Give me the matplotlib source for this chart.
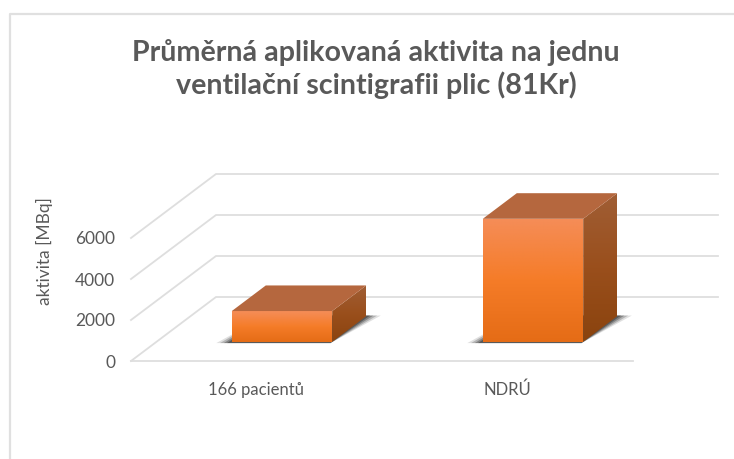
import numpy as np
import matplotlib
matplotlib.use("Agg")
import matplotlib.pyplot as plt
from matplotlib.colors import LinearSegmentedColormap
from matplotlib.lines import Line2D
from matplotlib.patches import Polygon

# data
categories = ["166 pacientů", "NDRÚ"]
values = [1500, 6000]
y_ticks = [0, 2000, 4000, 6000]

title = "Průměrná aplikovaná aktivita na jednu\nventilační scintigrafii plic (81Kr)"
y_label = "aktivita [MBq]"

# config
W, H = 734, 459
TEXT_COLOR = "#595959"
GRID_COLOR = "#dedede"
TOP_COLOR = "#b5673e"
DEPTH_X = 0.3386     # full depth of the box, in category units
DEPTH_Y = 3122       # full depth of the box, in value units
BAR_WIDTH = 0.4
BAR_D0, BAR_D1 = 0.3, 0.7

plt.rcParams["font.family"] = ["Lato", "DejaVu Sans"]

fig = plt.figure(figsize=(W / 100, H / 100), dpi=100)
ax = fig.add_axes([131 / W, (H - 361) / H, 502 / W, 123 / H])
ax.set_xlim(0, len(categories))
ax.set_ylim(0, max(y_ticks))
for s in ax.spines.values():
    s.set_visible(False)
ax.patch.set_visible(False)

front_cmap = LinearSegmentedColormap.from_list("front", ["#f58d58", "#f57c28", "#e56c16"])
side_cmap = LinearSegmentedColormap.from_list("side", ["#a05e35", "#9a4f1c", "#8a430e"])


def proj(x, v, d):
    return x + d * DEPTH_X, v + d * DEPTH_Y


def gradient_poly(pts, cmap, y_top, y_bottom, zorder):
    # vertical gradient clipped to a polygon, runs over the whole bar height
    xs = [p[0] for p in pts]
    grad = np.linspace(0, 1, 128).reshape(-1, 1)
    im = ax.imshow(grad, cmap=cmap, aspect="auto", zorder=zorder, interpolation="bilinear",
                   extent=[min(xs), max(xs), y_bottom, y_top], origin="upper")
    poly = Polygon(pts, closed=True, transform=ax.transData)
    im.set_clip_box(fig.bbox)
    im.set_clip_path(poly)


# outer chart border, cut by the picture edge
fig.add_artist(Line2D([9.5 / W, 9.5 / W, 1], [0, 1 - 13.5 / H, 1 - 13.5 / H], color="#e0e0e0", lw=1.6))

# walls and floor
n = len(categories)
for v in y_ticks:
    p0 = proj(0, v, 0)
    p1 = proj(0, v, 1)
    p2 = proj(n, v, 1)
    ax.plot([p0[0], p1[0], p2[0]], [p0[1], p1[1], p2[1]], color=GRID_COLOR, lw=1.3, clip_on=False, zorder=1)
ax.plot([0, n], [0, 0], color=GRID_COLOR, lw=1.3, clip_on=False, zorder=1)

# bars
for i, val in enumerate(values):
    x0 = i + 0.5 - BAR_WIDTH / 2
    x1 = i + 0.5 + BAR_WIDTH / 2

    # soft shadow on the floor
    for grow, a in zip([0.055, 0.04, 0.025, 0.012], [0.15, 0.25, 0.35, 0.5]):
        shadow = [proj(x0 - grow, 0, BAR_D0 - 0.02), proj(x1, 0, BAR_D0 - 0.02),
                  proj(x1 + grow, 0, BAR_D1 + 0.01), proj(x0, 0, BAR_D1 + 0.01)]
        ax.add_patch(Polygon(shadow, closed=True, facecolor="#2f2f2f", edgecolor="none",
                             alpha=a, clip_on=False, zorder=2))

    front = [proj(x0, 0, BAR_D0), proj(x1, 0, BAR_D0), proj(x1, val, BAR_D0), proj(x0, val, BAR_D0)]
    side = [proj(x1, 0, BAR_D0), proj(x1, 0, BAR_D1), proj(x1, val, BAR_D1), proj(x1, val, BAR_D0)]
    top = [proj(x0, val, BAR_D0), proj(x1, val, BAR_D0), proj(x1, val, BAR_D1), proj(x0, val, BAR_D1)]

    gradient_poly(front, front_cmap, front[2][1], front[0][1], 3)
    gradient_poly(side, side_cmap, side[2][1], side[0][1], 3)
    ax.add_patch(Polygon(top, closed=True, facecolor=TOP_COLOR, edgecolor="none", clip_on=False, zorder=3))

ax.set_xlim(0, n)
ax.set_ylim(0, max(y_ticks))

# axes text
ax.set_xticks([i + 0.5 for i in range(n)])
ax.set_xticklabels(categories)
ax.set_yticks(y_ticks)
ax.set_yticklabels([str(v) for v in y_ticks])
ax.tick_params(axis="x", length=0, pad=15, labelsize=12, colors=TEXT_COLOR)
ax.tick_params(axis="y", length=0, pad=11.5, labelsize=12.5, colors=TEXT_COLOR)

fig.text(44 / W, 1 - 251 / H, y_label, rotation=90, ha="center", va="center", fontsize=12.5, color=TEXT_COLOR)
fig.text(376 / W, 1 - 69 / H, title, ha="center", va="center", fontsize=20.6, fontweight="bold",
         color=TEXT_COLOR, linespacing=1.26)

fig.savefig("out.png", dpi=100)
